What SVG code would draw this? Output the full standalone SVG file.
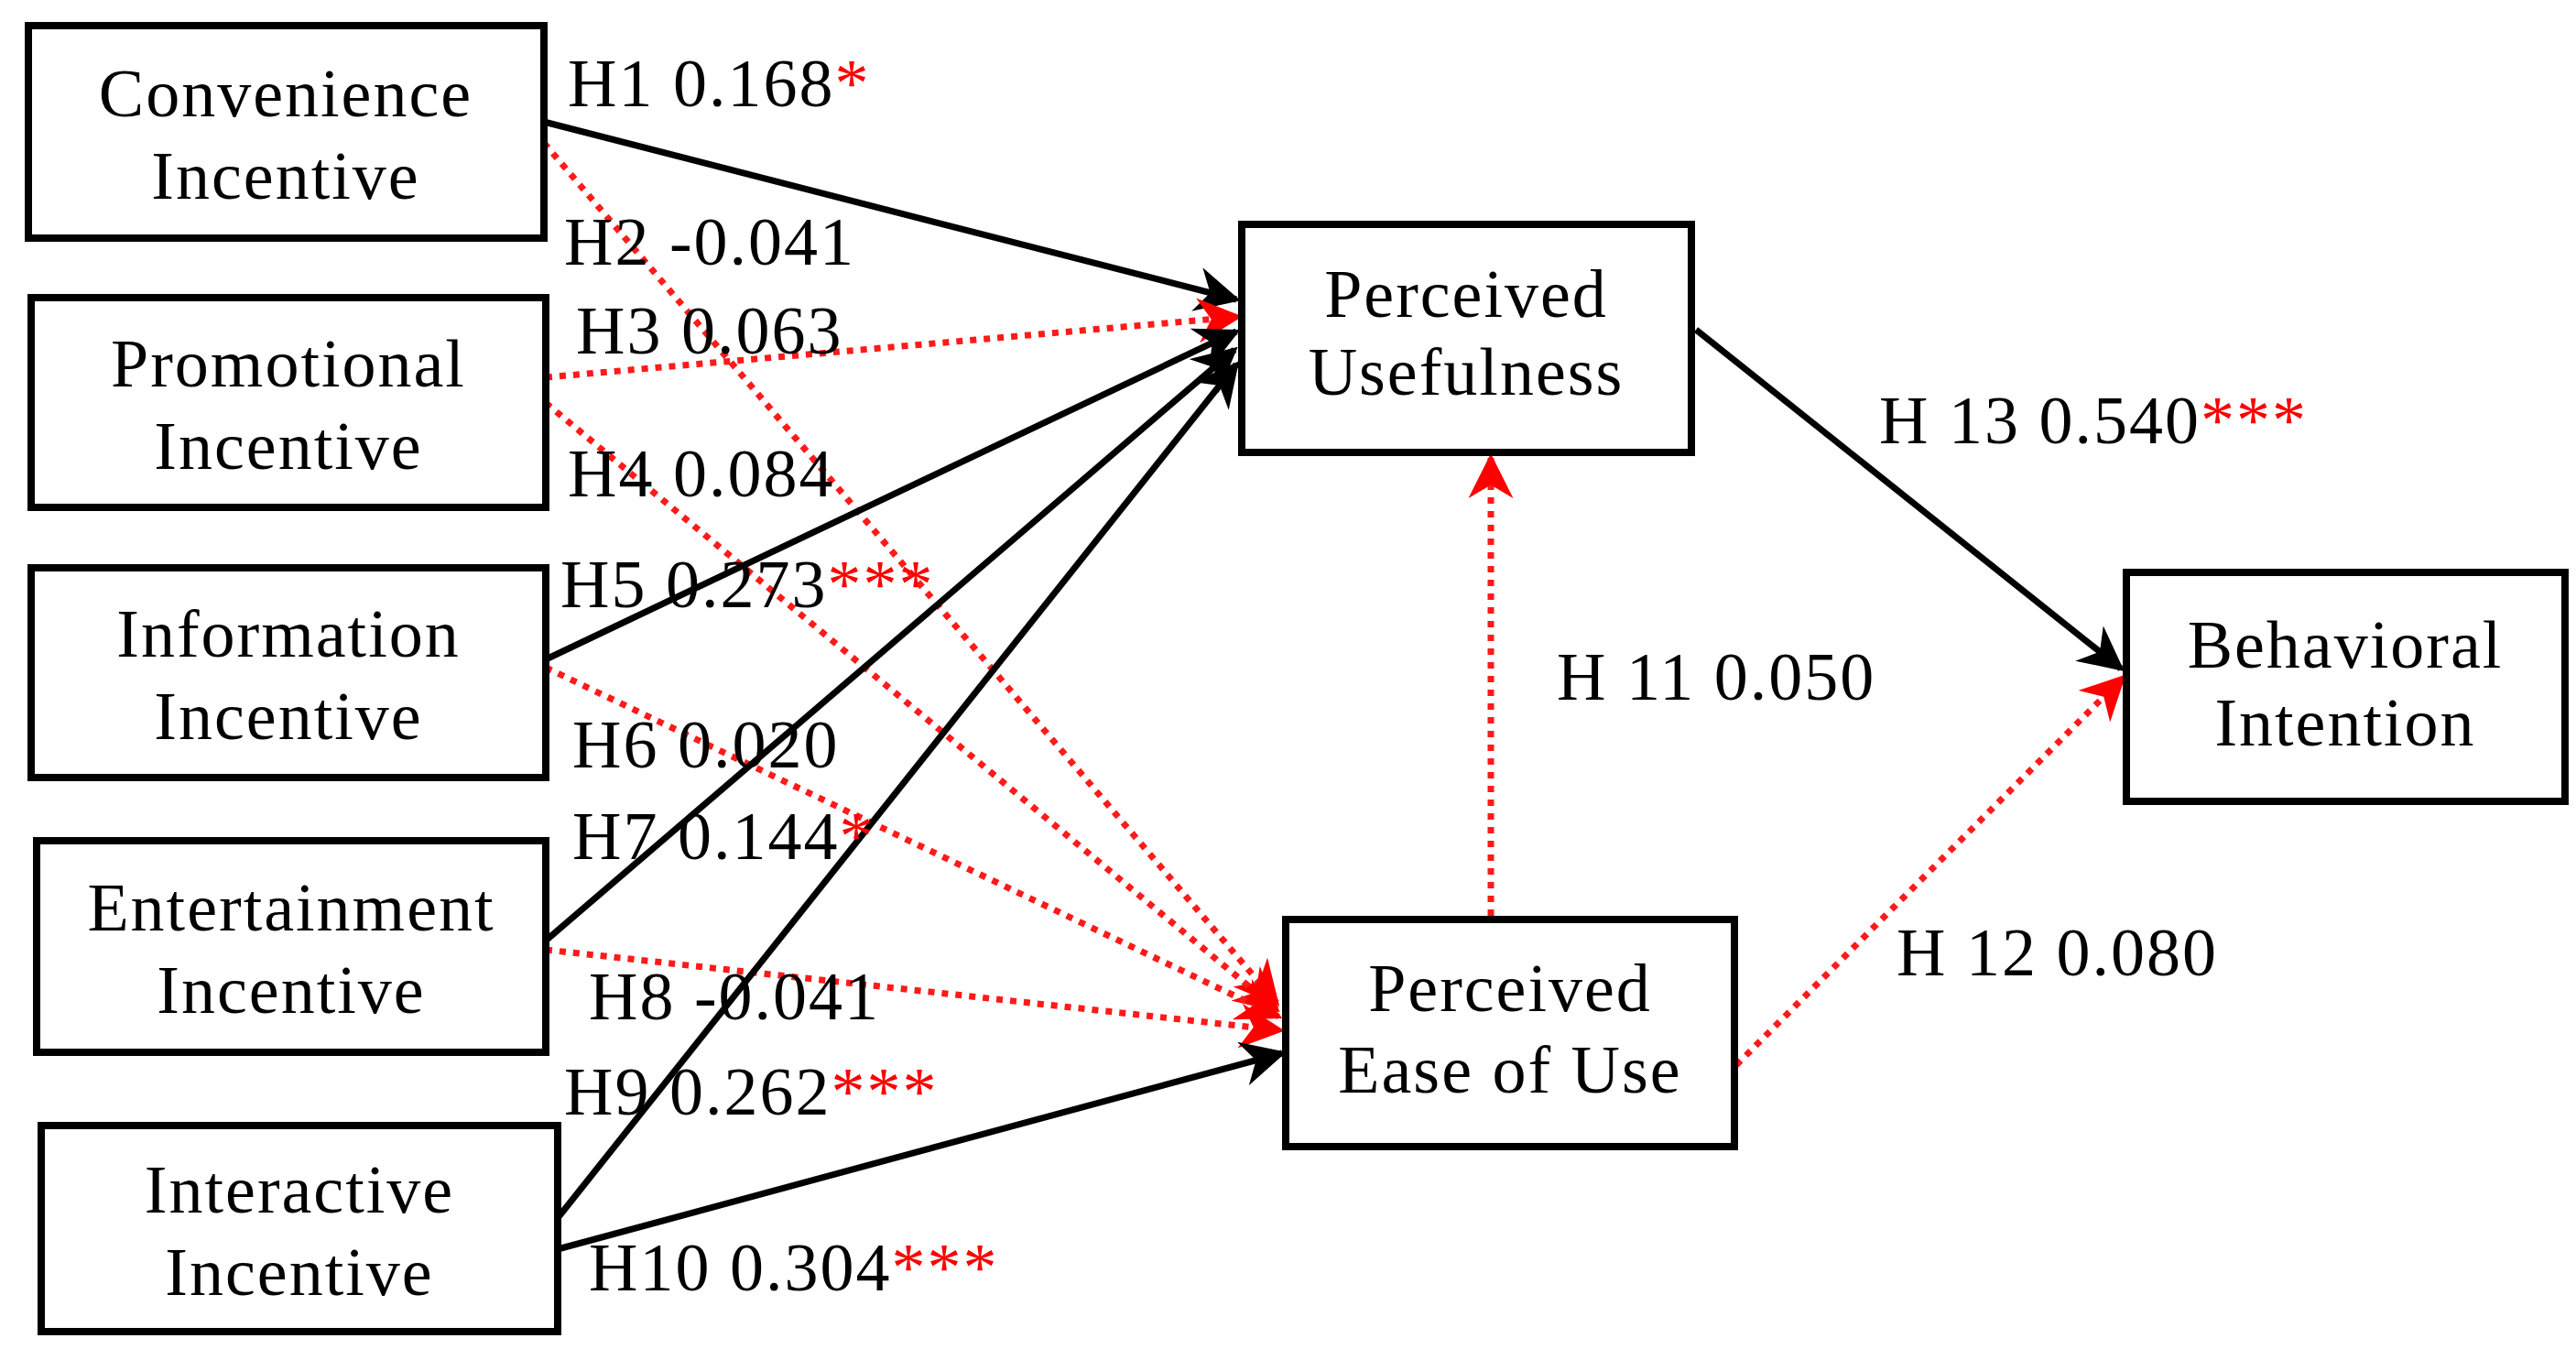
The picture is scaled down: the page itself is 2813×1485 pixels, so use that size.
<svg xmlns="http://www.w3.org/2000/svg" width="2813" height="1485" viewBox="0 0 2813 1485">
<defs>
<style>
.box{fill:#fff;stroke:#000;stroke-width:8}
.nt{font-family:"Liberation Serif",serif;font-size:74px;letter-spacing:2px;text-anchor:middle;fill:#000}
.lb{font-family:"Liberation Serif",serif;font-size:74px;letter-spacing:2px;fill:#000}
.st{fill:#ff0000}
.b{stroke:#000;stroke-width:7;fill:none;marker-end:url(#ab)}
.r{stroke:#ff1a1a;stroke-width:7;fill:none;stroke-dasharray:7 8;marker-end:url(#ar)}
</style>
<marker id="ab" viewBox="0 0 10 10" refX="9" refY="5" markerWidth="7" markerHeight="7" markerUnits="strokeWidth" orient="auto"><path d="M0,0 L10,5 L0,10 L3,5 z" fill="#000"/></marker>
<marker id="ar" viewBox="0 0 10 10" refX="9" refY="5" markerWidth="7" markerHeight="7" markerUnits="strokeWidth" orient="auto"><path d="M0,0 L10,5 L0,10 L3,5 z" fill="#ff0000"/></marker>
</defs>
<rect width="2813" height="1485" fill="#fff"/>
<g id="connectors">
<line class="b" x1="594" y1="133" x2="1350" y2="327"/>
<line class="r" x1="594" y1="156" x2="1394" y2="1095"/>
<line class="r" x1="596" y1="412" x2="1352" y2="346"/>
<line class="r" x1="596" y1="440" x2="1394" y2="1102"/>
<line class="b" x1="596" y1="720" x2="1350" y2="362"/>
<line class="r" x1="596" y1="729" x2="1396" y2="1110"/>
<line class="b" x1="596" y1="1027" x2="1348" y2="382"/>
<line class="r" x1="596" y1="1037" x2="1398" y2="1125"/>
<line class="b" x1="609" y1="1330" x2="1350" y2="398"/>
<line class="b" x1="609" y1="1364" x2="1400" y2="1150"/>
<line class="r" x1="1628" y1="1000" x2="1628" y2="500"/>
<line class="r" x1="1896" y1="1163" x2="2318" y2="740"/>
<line class="b" x1="1852" y1="360" x2="2316" y2="730"/>
</g>
<g id="convenience"><rect class="box" x="31" y="28" width="563" height="232"/><text class="nt" x="312" y="127">Convenience</text><text class="nt" x="312" y="217">Incentive</text></g>
<g id="promotional"><rect class="box" x="34" y="325" width="562" height="229"/><text class="nt" x="315" y="422">Promotional</text><text class="nt" x="315" y="512">Incentive</text></g>
<g id="information"><rect class="box" x="34" y="620" width="562" height="229"/><text class="nt" x="315" y="717">Information</text><text class="nt" x="315" y="807">Incentive</text></g>
<g id="entertainment"><rect class="box" x="40" y="918" width="556" height="231"/><text class="nt" x="318" y="1016">Entertainment</text><text class="nt" x="318" y="1106">Incentive</text></g>
<g id="interactive"><rect class="box" x="45" y="1229" width="564" height="225"/><text class="nt" x="327" y="1324">Interactive</text><text class="nt" x="327" y="1414">Incentive</text></g>
<g id="pu"><rect class="box" x="1356" y="245" width="491" height="249"/><text class="nt" x="1601" y="346">Perceived</text><text class="nt" x="1601" y="431">Usefulness</text></g>
<g id="peou"><rect class="box" x="1404" y="1004" width="490" height="248"/><text class="nt" x="1649" y="1104">Perceived</text><text class="nt" x="1649" y="1193">Ease of Use</text></g>
<g id="bi"><rect class="box" x="2322" y="625" width="479" height="250"/><text class="nt" x="2561" y="729">Behavioral</text><text class="nt" x="2561" y="814">Intention</text></g>
<g id="labels">
<text class="lb" x="620" y="116">H1 0.168<tspan class="st">*</tspan></text>
<text class="lb" x="616" y="289">H2 -0.041</text>
<text class="lb" x="629" y="386">H3 0.063</text>
<text class="lb" x="620" y="542">H4 0.084</text>
<text class="lb" x="612" y="663">H5 0.273<tspan class="st">***</tspan></text>
<text class="lb" x="625" y="838">H6 0.020</text>
<text class="lb" x="625" y="938">H7 0.144<tspan class="st">*</tspan></text>
<text class="lb" x="643" y="1113">H8 -0.041</text>
<text class="lb" x="616" y="1217">H9 0.262<tspan class="st">***</tspan></text>
<text class="lb" x="643" y="1409">H10 0.304<tspan class="st">***</tspan></text>
<text class="lb" x="2052" y="484">H 13 0.540<tspan class="st">***</tspan></text>
<text class="lb" x="1700" y="764">H 11 0.050</text>
<text class="lb" x="2071" y="1065">H 12 0.080</text>
</g>
</svg>
